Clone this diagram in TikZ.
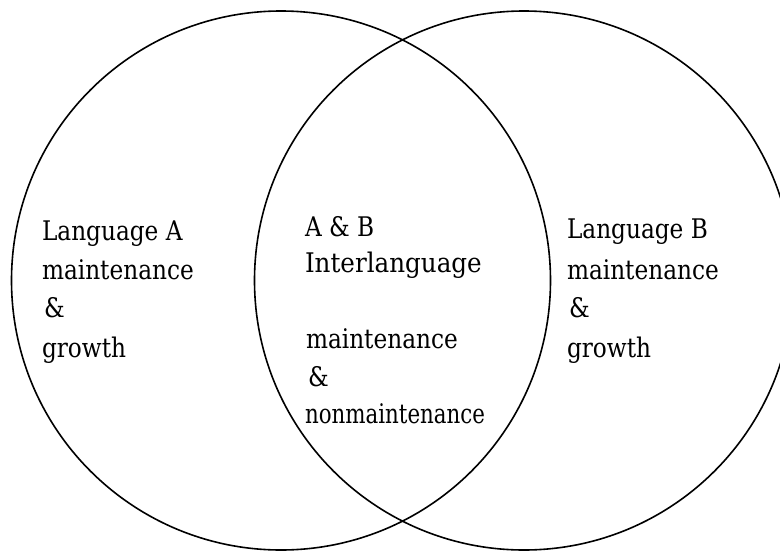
\documentclass[tikz,border=0pt]{standalone}
\usepackage{fontspec}
\setmainfont{DejaVu Serif}[FakeStretch=0.86]
\begin{document}
\begin{tikzpicture}[x=1pt,y=-1pt,
  ring/.style={draw=black,line width=1.6pt},
  txt/.style={anchor=base west,inner sep=0pt,outer sep=0pt,font=\fontsize{27}{30}\selectfont}]
\useasboundingbox (0,0) rectangle (780,552);
\draw[ring] (281,280.5) circle[radius=269.5];
\draw[ring] (524,280.5) circle[radius=269.5];
% left column
\node[txt] (la1) at (42,240) {Language A};
\node[txt] (la2) at (42,279) {maintenance};
\node[txt] (la3) at (44,317) {\&};
\node[txt] (la4) at (42,357) {growth};
% middle column
\node[txt] (m1) at (305,236) {A \& B};
\node[txt,xscale=1.06] (m2) at (305,272) {Interlanguage};
\node[txt] (m3) at (306,348) {maintenance};
\node[txt] (m4) at (308,386) {\&};
\node[txt,xscale=0.92] (m5) at (305,423) {nonmaintenance};
% right column
\node[txt] (rb1) at (567,238) {Language B};
\node[txt] (rb2) at (567,279) {maintenance};
\node[txt] (rb3) at (569,317) {\&};
\node[txt] (rb4) at (567,357) {growth};
\end{tikzpicture}
\end{document}
